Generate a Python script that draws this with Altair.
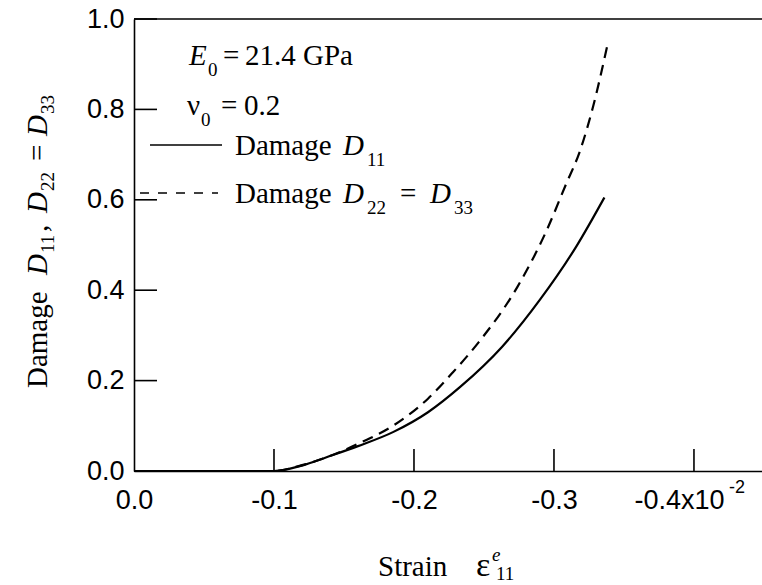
import altair as alt
import pandas as pd

# ---------------- data ----------------
strain_d11 = [0.0, -0.05, -0.1, -0.12, -0.138, -0.16, -0.185, -0.21, -0.233, -0.263, -0.29, -0.316, -0.336]
damage_d11 = [0.0, 0.0, 0.0, 0.012, 0.031, 0.055, 0.086, 0.13, 0.186, 0.275, 0.379, 0.497, 0.605]

strain_d22 = [0.0, -0.05, -0.1, -0.12, -0.14, -0.16, -0.185, -0.21, -0.228, -0.246, -0.274, -0.295,
              -0.308, -0.319, -0.328, -0.338]
damage_d22 = [0.0, 0.0, 0.0, 0.013, 0.033, 0.06, 0.1, 0.16, 0.219, 0.284, 0.408, 0.534,
              0.63, 0.712, 0.807, 0.94]

x_tick_values = [0.0, -0.1, -0.2, -0.3, -0.4]
x_tick_labels = ["0.0", "-0.1", "-0.2", "-0.3", "-0.4x10"]
y_tick_values = [0.0, 0.2, 0.4, 0.6, 0.8, 1.0]
y_tick_labels = ["0.0", "0.2", "0.4", "0.6", "0.8", "1.0"]

x_domain = [0.0, -0.4486]
y_domain = [0.0, 1.0]

# ---------------- layout ----------------
L, T = 134, 19
W, H = 628, 452
SERIF = "Liberation Serif"
SANS = "Liberation Sans"

d11 = pd.DataFrame({"strain": strain_d11, "damage": damage_d11, "idx": range(len(strain_d11))})
d22 = pd.DataFrame({"strain": strain_d22, "damage": damage_d22, "idx": range(len(strain_d22))})
one = pd.DataFrame({"a": [0]})

xs = alt.Scale(domain=x_domain, nice=False, zero=False)
ys = alt.Scale(domain=y_domain, nice=False, zero=False)


def label_expr(values, labels):
    expr = "''"
    for v, s in reversed(list(zip(values, labels))):
        expr = f"abs(datum.value - ({v})) < 1e-6 ? '{s}' : ({expr})"
    return expr


LABEL_SIZE = 27
x_axis = alt.Axis(
    values=x_tick_values, labelExpr=label_expr(x_tick_values, x_tick_labels),
    ticks=False, grid=False, domain=True, domainColor="black", domainWidth=1.6,
    labelFont=SANS, labelFontSize=LABEL_SIZE, labelColor="black", labelPadding=16,
    labelFlush=False, labelOverlap=False, title=None,
    labelOffset={"condition": {"test": "abs(datum.value + 0.4) < 1e-6", "value": -15}, "value": 0},
)
y_axis = alt.Axis(
    values=y_tick_values, labelExpr=label_expr(y_tick_values, y_tick_labels),
    ticks=False, grid=False, domain=True, domainColor="black", domainWidth=1.6,
    labelFont=SANS, labelFontSize=LABEL_SIZE, labelColor="black", labelPadding=10,
    labelOverlap=False, title=None,
)

line11 = alt.Chart(d11).mark_line(color="black", strokeWidth=2.2, interpolate="monotone").encode(
    x=alt.X("strain:Q", scale=xs, axis=x_axis),
    y=alt.Y("damage:Q", scale=ys, axis=y_axis),
    order="idx:Q",
)
line22 = alt.Chart(d22).mark_line(color="black", strokeWidth=2.2, strokeDash=[11, 7],
                                  interpolate="monotone").encode(
    x=alt.X("strain:Q", scale=xs),
    y=alt.Y("damage:Q", scale=ys),
    order="idx:Q",
)

# inward ticks
xt = pd.DataFrame({"v": x_tick_values[1:]})
yt = pd.DataFrame({"v": y_tick_values[1:]})
x_ticks = alt.Chart(xt).mark_rule(color="black", strokeWidth=1.6).encode(
    x=alt.X("v:Q", scale=xs), y=alt.value(H), y2=alt.value(H - 22))
y_ticks = alt.Chart(yt).mark_rule(color="black", strokeWidth=1.6).encode(
    y=alt.Y("v:Q", scale=ys), x=alt.value(0), x2=alt.value(23))
top_line = alt.Chart(one).mark_rule(color="black", strokeWidth=1.4).encode(
    y=alt.datum(1.0, scale=ys), x=alt.value(0), x2=alt.value(W))


def txt(s, x, y, size=29, style="normal", font=SERIF, angle=0, align="left"):
    return alt.Chart(one).mark_text(
        text=s, font=font, fontSize=size, fontStyle=style, align=align,
        baseline="alphabetic", angle=angle, color="black",
    ).encode(x=alt.value(x - L), y=alt.value(y - T))


def seg(x1, x2, y, dash=None, width=1.6):
    kw = {"strokeDash": dash} if dash else {}
    return alt.Chart(one).mark_rule(color="black", strokeWidth=width, **kw).encode(
        x=alt.value(x1 - L), x2=alt.value(x2 - L), y=alt.value(y - T))


BIG, SUB = 29, 19
texts = [
    # E0 = 21.4 GPa
    txt("E", 189, 65, BIG, "italic"),
    txt("0", 208, 76, SUB),
    txt("=", 223, 65, BIG),
    txt("21.4 GPa", 245, 65, BIG),
    # nu0 = 0.2
    txt("ν", 187, 115, BIG),
    txt("0", 201, 126, SUB),
    txt("=", 221, 115, BIG),
    txt("0.2", 244, 115, BIG),
    # legend solid
    seg(150, 222, 145),
    txt("Damage", 235, 155, BIG),
    txt("D", 343, 155, BIG, "italic"),
    txt("11", 367, 166, SUB),
    # legend dashed
    seg(140, 218, 193, dash=[9, 9]),
    txt("Damage", 235, 203, BIG),
    txt("D", 343, 203, BIG, "italic"),
    txt("22", 367, 214, SUB),
    txt("=", 400, 203, BIG),
    txt("D", 430, 203, BIG, "italic"),
    txt("33", 454, 214, SUB),
    # x superscript on -0.4x10
    txt("-2", 729, 493, 18, font=SANS),
    # x title
    txt("Strain", 378, 576, BIG),
    txt("ε", 476, 576, 34),
    txt("e", 492, 561, SUB, "italic"),
    txt("11", 496, 580, SUB),
    # y title (rotated, reads upward)
    txt("Damage", 47, 388, BIG, angle=270),
    txt("D", 47, 275, BIG, "italic", angle=270),
    txt("11", 54, 253, SUB, angle=270),
    txt(",", 47, 232, BIG, angle=270),
    txt("D", 47, 213, BIG, "italic", angle=270),
    txt("22", 54, 191, SUB, angle=270),
    txt("=", 47, 161, BIG, angle=270),
    txt("D", 47, 136, BIG, "italic", angle=270),
    txt("33", 54, 114, SUB, angle=270),
]

chart = alt.layer(line11, line22, x_ticks, y_ticks, top_line, *texts).properties(
    width=W, height=H,
    padding={"left": L, "top": T, "right": 0, "bottom": 585 - T - H},
    autosize=alt.AutoSizeParams(type="none"),
    background="white",
).configure_view(stroke=None)

chart.save("out.html", embed_options={"renderer": "svg", "actions": False})
